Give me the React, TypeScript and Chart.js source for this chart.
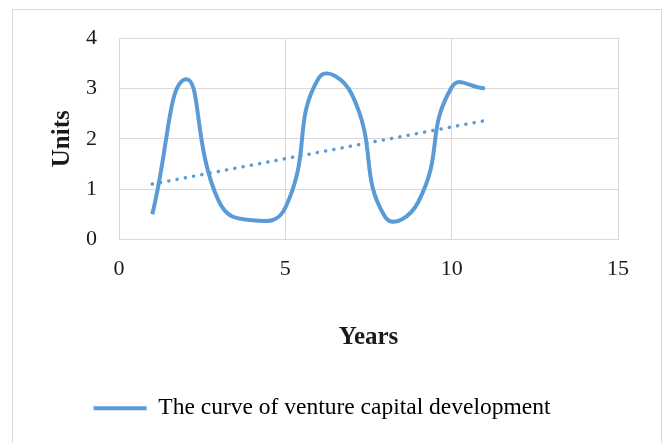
import React, { useEffect, useRef } from "react";
import { Chart, registerables } from "chart.js";

Chart.register(...registerables);

const years = [1, 2, 3, 4, 5, 6, 7, 8, 9, 10, 11];
const units = [0.5, 3.18, 0.76, 0.38, 0.63, 3.2, 2.88, 0.45, 0.75, 3.02, 3.0];
const trendYears = [1, 11];
const trendUnits = [1.1, 2.36];
const xTicks = [0, 5, 10, 15];
const yTicks = [0, 1, 2, 3, 4];
const seriesLabel = "The curve of venture capital development";
const xTitle = "Years";
const yTitle = "Units";

const BLUE = "#5b9bd5";
const GRID = "#d9d9d9";
const FONT = "'Liberation Serif', 'Times New Roman', serif";

export default function App() {
  const ref = useRef<HTMLCanvasElement | null>(null);

  useEffect(() => {
    if (!ref.current) return;
    const chart = new Chart(ref.current, {
      type: "line",
      data: {
        datasets: [
          {
            label: seriesLabel,
            data: years.map((x, i) => ({ x, y: units[i] })),
            borderColor: BLUE,
            backgroundColor: BLUE,
            borderWidth: 4,
            pointRadius: 0,
            tension: 0.5,
            fill: false,
          },
          {
            label: "trend",
            data: trendYears.map((x, i) => ({ x, y: trendUnits[i] })),
            borderColor: BLUE,
            backgroundColor: BLUE,
            borderWidth: 3.5,
            borderDash: [0.1, 8.3],
            borderCapStyle: "round",
            pointRadius: 0,
            tension: 0,
            fill: false,
          },
        ],
      },
      options: {
        animation: false,
        responsive: false,
        maintainAspectRatio: false,
        layout: { padding: { top: 28, right: 43, left: 13, bottom: 13 } },
        plugins: {
          tooltip: { enabled: false },
          legend: {
            position: "bottom",
            labels: {
              boxWidth: 53,
              boxHeight: 4,
              color: "#1a1a1a",
              font: { family: FONT, size: 23.5 },
              generateLabels: () => [
                {
                  text: seriesLabel,
                  fillStyle: BLUE,
                  strokeStyle: BLUE,
                  lineWidth: 0,
                  datasetIndex: 0,
                  hidden: false,
                },
              ],
            },
          },
        },
        scales: {
          x: {
            type: "linear",
            min: 0,
            max: 15,
            afterFit: (s: any) => {
              s.height = 147;
              s.paddingLeft = 0;
              s.paddingRight = 0;
            },
            afterBuildTicks: (s: any) => {
              s.ticks = xTicks.map((v) => ({ value: v }));
            },
            ticks: {
              color: "#1a1a1a",
              font: { family: FONT, size: 22 },
              padding: 17,
              maxRotation: 0,
            },
            grid: { color: GRID, lineWidth: 1, drawTicks: false },
            border: { color: GRID, width: 1 },
            title: {
              display: true,
              text: xTitle,
              color: "#1a1a1a",
              font: { family: FONT, size: 25, weight: "bold" },
              padding: { top: 0, bottom: 34 },
            },
          },
          y: {
            type: "linear",
            min: 0,
            max: 4,
            afterFit: (s: any) => {
              s.width = 93;
              s.paddingTop = 0;
              s.paddingBottom = 0;
            },
            afterBuildTicks: (s: any) => {
              s.ticks = yTicks.map((v) => ({ value: v }));
            },
            ticks: {
              color: "#1a1a1a",
              font: { family: FONT, size: 22 },
              padding: 22,
            },
            grid: { color: GRID, lineWidth: 1, drawTicks: false },
            border: { color: GRID, width: 1 },
            title: {
              display: true,
              text: yTitle,
              color: "#1a1a1a",
              font: { family: FONT, size: 25, weight: "bold" },
              padding: { top: 22, bottom: 0 },
            },
          },
        },
      },
    });
    return () => chart.destroy();
  }, []);

  return (
    <div
      style={{
        position: "absolute",
        left: 12,
        top: 9,
        width: 648,
        height: 440,
        border: `1px solid ${GRID}`,
        background: "#fff",
      }}
    >
      <canvas ref={ref} width={648} height={433} style={{ display: "block" }} />
    </div>
  );
}
